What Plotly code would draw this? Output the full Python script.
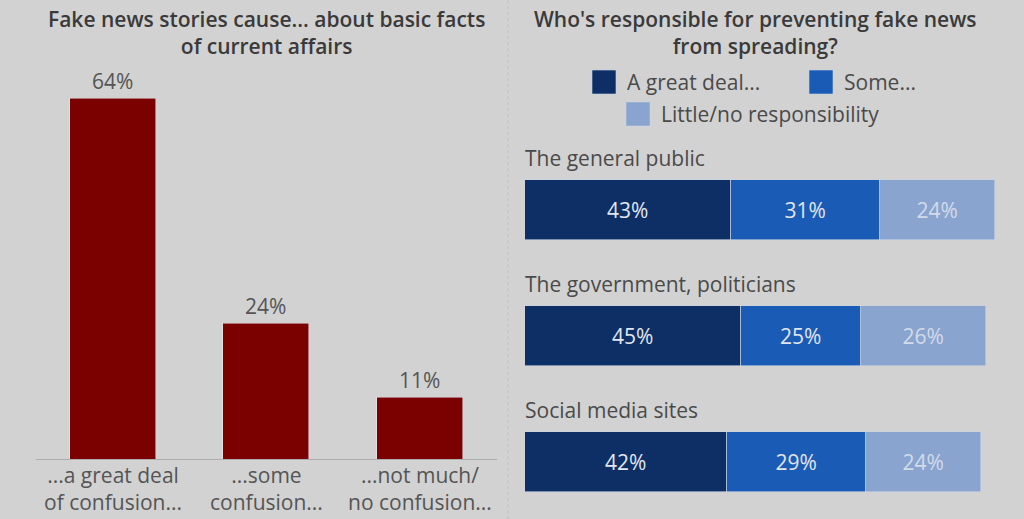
#Python Script for the fake news survey chart (two panels)
import plotly.graph_objects as go

# Data - left panel
confusion_labels = ['...a great deal<br>of confusion...', '...some<br>confusion...', '...not much/<br>no confusion...']
confusion_values = [64, 24, 11]

# Data - right panel
groups = ['The general public', 'The government, politicians', 'Social media sites']
series_names = ['A great deal...', 'Some...', 'Little/no responsibility']
great_deal = [43, 45, 42]
some = [31, 25, 29]
little_none = [24, 26, 24]

# Style
BG = '#d2d2d2'
FONT = 'Open Sans'
RED = '#7b0000'
COLORS = ['#0d2f66', '#1a5bb5', '#89a4cf']
TEXT_COLORS = ['#e2e6ee', '#e2e6ee', '#d3dbe8']

fig = go.Figure()

# Left: vertical bars
fig.add_trace(go.Bar(
    x=confusion_labels, y=confusion_values, marker_color=RED, width=0.56,
    text=[f'{v}%' for v in confusion_values], textposition='outside',
    textfont=dict(family=FONT, size=21, color='#555555'),
    cliponaxis=False, xaxis='x', yaxis='y', showlegend=False))

# Right: stacked horizontal bars
for name, vals, col, tcol in zip(series_names, [great_deal, some, little_none], COLORS, TEXT_COLORS):
    fig.add_trace(go.Bar(
        y=list(range(len(groups))), x=vals, orientation='h', name=name,
        marker=dict(color=col, line=dict(color='#c9d3e3', width=0.6)), width=0.476,
        text=[f'{v}%' for v in vals], textposition='inside', insidetextanchor='middle',
        textfont=dict(family=FONT, size=21, color=tcol),
        xaxis='x2', yaxis='y2', showlegend=False))

fig.update_layout(
    width=1024, height=519,
    margin=dict(l=0, r=0, t=0, b=0),
    paper_bgcolor=BG, plot_bgcolor=BG,
    barmode='stack', bargap=0,
    font=dict(family=FONT, color='#555555'),
    uniformtext=dict(minsize=21, mode='show'),
    xaxis=dict(domain=[0.035, 0.485], anchor='y', showgrid=False, zeroline=False,
               showline=True, linecolor='#adadad', linewidth=1, ticks='',
               showticklabels=False, fixedrange=True),
    yaxis=dict(domain=[0.1156, 0.876], range=[0, 70], anchor='x', visible=False),
    xaxis2=dict(domain=[0.5127, 0.9814], range=[0, 100], anchor='y2', visible=False),
    yaxis2=dict(domain=[0.0127, 0.7168], range=[2.4, -0.5], anchor='x2', visible=False),
)

# Category labels under the left bars
for cat in confusion_labels:
    fig.add_annotation(text=cat, x=cat, xref='x', y=1 - 488.5 / 519, yref='paper',
                       xanchor='center', yanchor='middle', showarrow=False,
                       font=dict(family=FONT, size=21, color='#555555'))

# Panel titles
fig.add_annotation(text='Fake news stories cause... about basic facts<br>of current affairs',
                   x=0.26, y=1 - 3 / 519, xref='paper', yref='paper', xanchor='center', yanchor='top',
                   showarrow=False, font=dict(family=FONT, size=21, color='#3a3a3a', weight=600))
fig.add_annotation(text="Who's responsible for preventing fake news<br>from spreading?",
                   x=0.738, y=1 - 3 / 519, xref='paper', yref='paper', xanchor='center', yanchor='top',
                   showarrow=False, font=dict(family=FONT, size=21, color='#3a3a3a', weight=600))

# Group labels above each horizontal bar
for i, g in enumerate(groups):
    fig.add_annotation(text=g, x=0, y=i, xref='x2', yref='y2', xanchor='left', yanchor='middle',
                       yshift=52, xshift=-2, showarrow=False, font=dict(family=FONT, size=21, color='#4a4a4a'))

# Custom legend (swatches + labels)
legend_items = [(592 / 1024, 1 - 82 / 519), (809 / 1024, 1 - 82 / 519), (626 / 1024, 1 - 114 / 519)]
sw = 24 / 1024
sh = 24 / 519
for (lx, ly), name, col in zip(legend_items, series_names, COLORS):
    fig.add_shape(type='rect', xref='paper', yref='paper', x0=lx, x1=lx + sw, y0=ly - sh / 2, y1=ly + sh / 2,
                  fillcolor=col, line=dict(color='#c9d3e3', width=0.6))
    fig.add_annotation(text=name, x=lx + sw + 9 / 1024, y=ly, xref='paper', yref='paper',
                       xanchor='left', yanchor='middle', showarrow=False,
                       font=dict(family=FONT, size=21, color='#4a4a4a'))

# Dotted divider between panels
fig.add_shape(type='line', xref='paper', yref='paper', x0=508 / 1024, x1=508 / 1024, y0=0, y1=1,
              line=dict(color='#c0c0c0', width=1, dash='dot'))

fig.write_html('out.html', config={'displayModeBar': False},
               post_script="document.body.style.margin='0';document.body.style.background='" + BG + "';")
